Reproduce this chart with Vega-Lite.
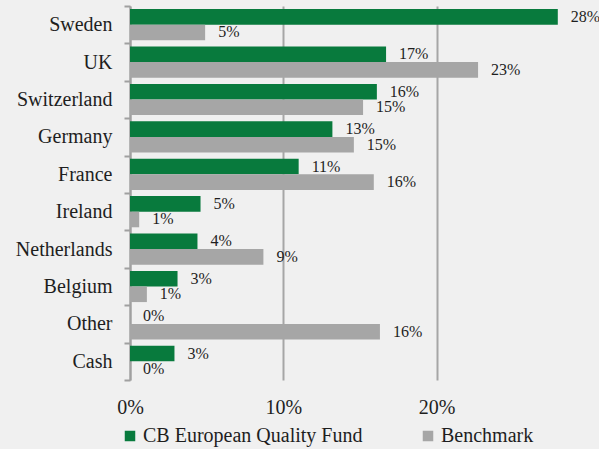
{
  "$schema": "https://vega.github.io/schema/vega-lite/v6.json",
  "width": 460,
  "height": 374,
  "autosize": {"type": "none"},
  "padding": {"left": 130, "top": 6, "right": 9, "bottom": 69},
  "background": "#f0f0f0",
  "config": {
    "view": {"stroke": null},
    "font": "Times New Roman, Liberation Serif, serif"
  },
  "data": {
    "values": [
      {"country": "Sweden", "series": "CB European Quality Fund", "value": 0.279},
      {"country": "Sweden", "series": "Benchmark", "value": 0.049},
      {"country": "UK", "series": "CB European Quality Fund", "value": 0.167},
      {"country": "UK", "series": "Benchmark", "value": 0.227},
      {"country": "Switzerland", "series": "CB European Quality Fund", "value": 0.161},
      {"country": "Switzerland", "series": "Benchmark", "value": 0.152},
      {"country": "Germany", "series": "CB European Quality Fund", "value": 0.132},
      {"country": "Germany", "series": "Benchmark", "value": 0.146},
      {"country": "France", "series": "CB European Quality Fund", "value": 0.110},
      {"country": "France", "series": "Benchmark", "value": 0.159},
      {"country": "Ireland", "series": "CB European Quality Fund", "value": 0.046},
      {"country": "Ireland", "series": "Benchmark", "value": 0.006},
      {"country": "Netherlands", "series": "CB European Quality Fund", "value": 0.044},
      {"country": "Netherlands", "series": "Benchmark", "value": 0.087},
      {"country": "Belgium", "series": "CB European Quality Fund", "value": 0.031},
      {"country": "Belgium", "series": "Benchmark", "value": 0.011},
      {"country": "Other", "series": "CB European Quality Fund", "value": 0.0},
      {"country": "Other", "series": "Benchmark", "value": 0.163},
      {"country": "Cash", "series": "CB European Quality Fund", "value": 0.029},
      {"country": "Cash", "series": "Benchmark", "value": 0.0}
    ]
  },
  "encoding": {
    "y": {
      "field": "country",
      "type": "nominal",
      "sort": ["Sweden", "UK", "Switzerland", "Germany", "France", "Ireland", "Netherlands", "Belgium", "Other", "Cash"],
      "scale": {"paddingInner": 0, "paddingOuter": 0},
      "axis": {
        "title": null,
        "tickBand": "extent",
        "domainColor": "#a0a0a0",
        "domainWidth": 2,
        "tickColor": "#a0a0a0",
        "tickWidth": 2,
        "tickSize": 6,
        "labelPadding": 12,
        "labelFontSize": 20,
        "labelColor": "#1e1e1e",
        "grid": false
      }
    },
    "yOffset": {
      "field": "series",
      "sort": ["CB European Quality Fund", "Benchmark"],
      "scale": {"paddingOuter": 0.2, "paddingInner": 0}
    },
    "x": {
      "field": "value",
      "type": "quantitative",
      "scale": {"domain": [0, 0.3]},
      "axis": {
        "values": [0, 0.1, 0.2],
        "format": ".0%",
        "title": null,
        "domain": false,
        "ticks": false,
        "gridColor": "#a6a6a6",
        "gridWidth": 2,
        "labelFontSize": 20,
        "labelColor": "#1e1e1e",
        "labelFlush": false,
        "labelPadding": 17
      }
    }
  },
  "layer": [
    {
      "mark": {"type": "bar"},
      "encoding": {
        "color": {
          "field": "series",
          "type": "nominal",
          "sort": ["CB European Quality Fund", "Benchmark"],
          "scale": {"domain": ["CB European Quality Fund", "Benchmark"], "range": ["#087a3d", "#a6a6a6"]},
          "legend": {
            "title": null,
            "orient": "none",
            "legendX": -10,
            "legendY": 420,
            "direction": "horizontal",
            "symbolType": "square",
            "symbolSize": 110,
            "symbolStrokeWidth": 0,
            "labelFontSize": 20,
            "labelColor": "#1e1e1e",
            "labelLimit": 400,
            "labelOffset": 3,
            "columnPadding": 55,
            "padding": 0
          }
        }
      }
    },
    {
      "mark": {"type": "text", "align": "left", "baseline": "middle", "dx": 13, "fontSize": 16, "color": "#1e1e1e"},
      "encoding": {
        "text": {"field": "value", "type": "quantitative", "format": ".0%"}
      }
    }
  ]
}
